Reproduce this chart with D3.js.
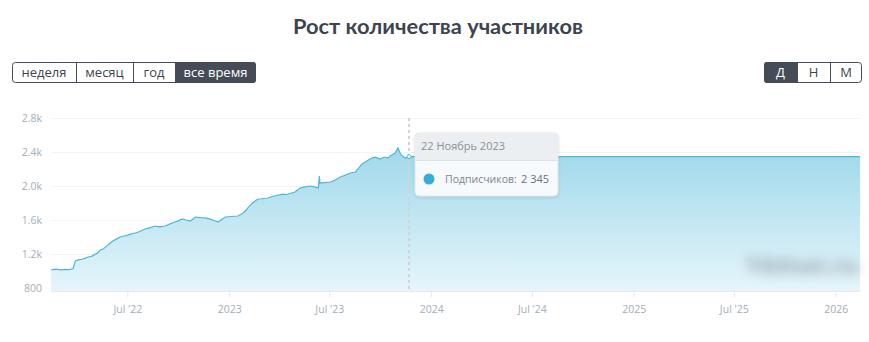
<!DOCTYPE html>
<html><head><meta charset="utf-8">
<script src="https://cdn.jsdelivr.net/npm/d3@7"></script>
<style>
body{margin:0;background:#fff;font-family:"Open Sans",Lato,sans-serif;}
svg{display:block;}
</style></head>
<body>
<svg id="c" width="869" height="342"></svg>
<script>
const dates = ["2022-02-13","2022-02-20","2022-02-25","2022-03-05","2022-03-10","2022-03-18","2022-03-25","2022-03-29","2022-04-03","2022-04-10","2022-04-15","2022-04-21","2022-04-27","2022-05-02","2022-05-08","2022-05-13","2022-05-19","2022-05-24","2022-05-31","2022-06-05","2022-06-10","2022-06-18","2022-06-25","2022-07-01","2022-07-08","2022-07-15","2022-07-22","2022-08-02","2022-08-10","2022-08-20","2022-08-28","2022-09-07","2022-09-15","2022-09-25","2022-10-01","2022-10-08","2022-10-15","2022-10-23","2022-11-01","2022-11-10","2022-11-19","2022-11-28","2022-12-07","2022-12-12","2022-12-25","2023-01-05","2023-01-17","2023-01-24","2023-01-30","2023-02-06","2023-02-12","2023-02-22","2023-03-01","2023-03-12","2023-03-20","2023-03-31","2023-04-08","2023-04-15","2023-04-22","2023-04-30","2023-05-09","2023-05-18","2023-05-27","2023-06-05","2023-06-11","2023-06-13","2023-06-14","2023-06-22","2023-07-03","2023-07-12","2023-07-21","2023-07-30","2023-08-08","2023-08-17","2023-08-23","2023-08-29","2023-09-06","2023-09-16","2023-09-22","2023-10-01","2023-10-06","2023-10-10","2023-10-15","2023-10-20","2023-10-28","2023-11-02","2023-11-05","2023-11-08","2023-11-15","2023-11-22","2024-06-01","2025-01-01","2026-02-14"];
const subscribers = [1012,1022,1018,1014,1020,1016,1028,1118,1130,1138,1148,1165,1172,1190,1210,1247,1262,1290,1329,1353,1372,1400,1412,1420,1436,1447,1462,1494,1508,1529,1520,1529,1552,1576,1590,1612,1600,1588,1635,1628,1624,1610,1588,1576,1635,1641,1647,1672,1706,1760,1800,1847,1850,1859,1876,1894,1905,1900,1915,1929,1976,1990,2000,1990,1976,2118,2035,2040,2047,2070,2106,2130,2153,2165,2210,2259,2290,2329,2340,2318,2335,2341,2330,2360,2388,2447,2400,2365,2329,2345,2345,2345,2345];
const yTicks = [800,1200,1600,2000,2400,2800];
const yTickLabels = ["800","1.2k","1.6k","2.0k","2.4k","2.8k"];
const xTicks = ["2022-07-01","2023-01-01","2023-07-01","2024-01-01","2024-07-01","2025-01-01","2025-07-01","2026-01-01"];
const xTickLabels = ["Jul '22","2023","Jul '23","2024","Jul '24","2025","Jul '25","2026"];
const periodButtons = ["неделя","месяц","год","все время"];
const scaleButtons = ["Д","Н","М"];
const title = "Рост количества участников";
const tipDate = "2023-11-22", tipLabel = "22 Ноябрь 2023", tipValue = 2345;

const parse = d3.timeParse("%Y-%m-%d");
const data = dates.map((d,i)=>({date:parse(d), v:subscribers[i]}));
const svg = d3.select("#c");
const defs = svg.append("defs");
const grad = defs.append("linearGradient").attr("id","g").attr("x1",0).attr("y1",0).attr("x2",0).attr("y2",1);
grad.append("stop").attr("offset","0%").attr("stop-color","#9fd8ea");
grad.append("stop").attr("offset","100%").attr("stop-color","#e6f5fb");
const blur = defs.append("filter").attr("id","blur").attr("x","-30%").attr("y","-100%").attr("width","160%").attr("height","300%");
blur.append("feGaussianBlur").attr("stdDeviation",6);

const L=51, R=860, T=118, B=291;
const x = d3.scaleTime().domain([parse("2022-02-13"), parse("2026-02-14")]).range([L,R]);
const y = d3.scaleLinear().domain([764.7,2800]).range([B,T]);

// title
svg.append("text").attr("x",438).attr("y",34).attr("text-anchor","middle")
  .attr("font-family","Lato, 'Open Sans', sans-serif").attr("font-weight",700).attr("font-size",21.8)
  .attr("fill","#3d4450").text(title);

function buttons(labels, widths, x0, active){
  const g = svg.append("g");
  let cx = x0;
  const total = d3.sum(widths);
  g.append("rect").attr("x",x0+0.5).attr("y",62.5).attr("width",total-1).attr("height",20).attr("rx",3)
    .attr("fill","#fff").attr("stroke","#454c57");
  labels.forEach((l,i)=>{
    const w = widths[i];
    if(i===active){
      g.append("path").attr("d", (()=>{
        const a=cx, b=cx+w, r=3, t=62, h=21;
        const first = i===0, last = i===labels.length-1;
        return `M${a+(first?r:0)},${t} H${b-(last?r:0)} ${last?`Q${b},${t} ${b},${t+r}`:""} V${t+h-(last?r:0)} ${last?`Q${b},${t+h} ${b-r},${t+h}`:""} H${a+(first?r:0)} ${first?`Q${a},${t+h} ${a},${t+h-r}`:""} V${t+(first?r:0)} ${first?`Q${a},${t} ${a+r},${t}`:""} Z`;
      })()).attr("fill","#454c57");
    }
    if(i>0) g.append("line").attr("x1",cx+0.5).attr("x2",cx+0.5).attr("y1",62).attr("y2",83).attr("stroke","#454c57");
    g.append("text").attr("x",cx+w/2).attr("y",77).attr("text-anchor","middle").attr("font-size",13)
      .attr("font-family","'Open Sans', sans-serif")
      .attr("fill", i===active?"#fff":"#3d4450").text(l);
    cx += w;
  });
}
buttons(periodButtons,[64,57,42,81],12,3);
buttons(scaleButtons,[33,33,32],764,0);

// grid
svg.append("g").selectAll("line").data(yTicks.slice(1)).join("line")
  .attr("x1",L).attr("x2",R).attr("y1",d=>Math.round(y(d))+0.5).attr("y2",d=>Math.round(y(d))+0.5)
  .attr("stroke","#f2f3f5");

// area + line
svg.append("path").datum(data).attr("fill","url(#g)")
  .attr("d", d3.area().x(d=>x(d.date)).y0(B).y1(d=>y(d.v)));
svg.append("path").datum(data).attr("fill","none").attr("stroke","#4db7d8").attr("stroke-width",1.2)
  .attr("d", d3.line().x(d=>x(d.date)).y(d=>y(d.v)));

// baseline
svg.append("line").attr("x1",L).attr("x2",R).attr("y1",B+0.5).attr("y2",B+0.5).attr("stroke","#e8ebee");

// y axis
const ya = svg.append("g").attr("transform",`translate(${L},0)`)
  .call(d3.axisLeft(y).tickValues(yTicks).tickSize(0).tickPadding(9).tickFormat((d,i)=>yTickLabels[i]));
ya.select(".domain").remove();
ya.selectAll("text").attr("font-family","'Open Sans', sans-serif").attr("font-size",10.5).attr("fill","#a3adb8");

// x axis
const xa = svg.append("g").attr("transform",`translate(0,${B})`)
  .call(d3.axisBottom(x).tickValues(xTicks.map(parse)).tickSize(6).tickPadding(9).tickFormat((d,i)=>xTickLabels[i]));
xa.select(".domain").remove();
xa.selectAll("line").attr("stroke","#e3e6ea");
xa.selectAll("text").attr("font-family","'Open Sans', sans-serif").attr("font-size",10.5).attr("fill","#a3adb8");

// watermark (blurred)
svg.append("text").attr("x",802).attr("y",274).attr("text-anchor","middle").attr("font-size",23)
  .attr("font-weight",800).attr("fill","#7f8a92").attr("opacity",0.6).attr("filter","url(#blur)")
  .attr("font-family","'Open Sans', sans-serif").text("TGStat.ru");

// crosshair
const tx = x(parse(tipDate)), ty = y(tipValue);
svg.append("line").attr("x1",tx).attr("x2",tx).attr("y1",T).attr("y2",B)
  .attr("stroke","#cfd4d9").attr("stroke-width",2).attr("stroke-dasharray","3,3");
svg.append("circle").attr("cx",tx).attr("cy",ty).attr("r",2).attr("fill","#fff").attr("stroke","#4db7d8").attr("stroke-width",1);

// tooltip
const tip = svg.append("g");
const bx=415, by=133, bw=143, bh=63, hh=27;
defs.append("filter").attr("id","sh").attr("x","-20%").attr("y","-20%").attr("width","140%").attr("height","150%")
  .append("feDropShadow").attr("dx",0).attr("dy",1).attr("stdDeviation",1.5).attr("flood-color","#000").attr("flood-opacity",0.12);
tip.append("rect").attr("x",bx).attr("y",by).attr("width",bw).attr("height",bh).attr("rx",4)
  .attr("fill","#f6fafc").attr("stroke","#e3e6e9").attr("filter","url(#sh)");
tip.append("path").attr("d",`M${bx+0.5},${by+hh} V${by+4} Q${bx+0.5},${by+0.5} ${bx+4},${by+0.5} H${bx+bw-4} Q${bx+bw-0.5},${by+0.5} ${bx+bw-0.5},${by+4} V${by+hh} Z`)
  .attr("fill","#eceff1");
tip.append("line").attr("x1",bx+0.5).attr("x2",bx+bw-0.5).attr("y1",by+hh+0.5).attr("y2",by+hh+0.5).attr("stroke","#dde2e6");
tip.append("text").attr("x",bx+6).attr("y",by+17).attr("font-size",11).attr("fill","#8a9097")
  .attr("font-family","'Open Sans', sans-serif").text(tipLabel);
tip.append("circle").attr("cx",bx+14).attr("cy",by+46).attr("r",5.5).attr("fill","#36add6");
tip.append("text").attr("x",bx+30).attr("y",by+50).attr("font-size",10.5).attr("fill","#7d848b")
  .attr("font-family","'Open Sans', sans-serif").text("Подписчиков:");
tip.append("text").attr("x",bx+106).attr("y",by+50).attr("font-size",11).attr("fill","#6b727a")
  .attr("font-family","'Open Sans', sans-serif").text(d3.format(",")(tipValue).replace(","," "));
</script>
</body></html>
